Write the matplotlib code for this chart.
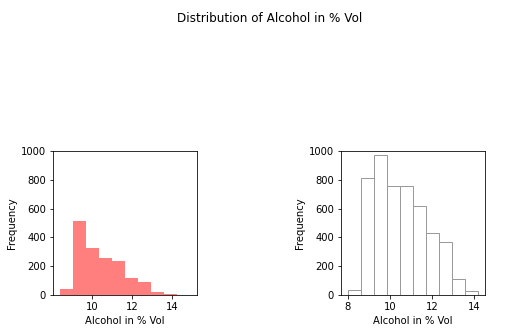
import numpy as np
import matplotlib
matplotlib.use('Agg')
import matplotlib.pyplot as plt

# red wine alcohol histogram (10 bins)
red_edges = np.linspace(8.4, 14.9, 11)
red_counts = [40, 513, 325, 257, 235, 117, 90, 20, 7, 1]

# white wine alcohol histogram (10 bins)
white_edges = np.linspace(8.0, 14.2, 11)
white_counts = [35, 810, 970, 760, 760, 620, 428, 365, 108, 25]

fig = plt.figure(figsize=(526/72, 334/72), dpi=72)
fig.suptitle('Distribution of Alcohol in % Vol', x=0.513, y=0.965)

ax1 = fig.add_axes([53/526, 39/334, 144/526, 144/334])
ax2 = fig.add_axes([341/526, 39/334, 144/526, 144/334])

centers = (red_edges[:-1] + red_edges[1:]) / 2
ax1.hist(centers, bins=red_edges, weights=red_counts, color='red', alpha=0.5)
centers = (white_edges[:-1] + white_edges[1:]) / 2
ax2.hist(centers, bins=white_edges, weights=white_counts, facecolor='white',
         edgecolor='#9a9a9a')

for ax in (ax1, ax2):
    ax.set_ylim(0, 1000)
    ax.set_xlabel('Alcohol in % Vol')
    ax.set_ylabel('Frequency')

fig.savefig('out.png', dpi=72)
